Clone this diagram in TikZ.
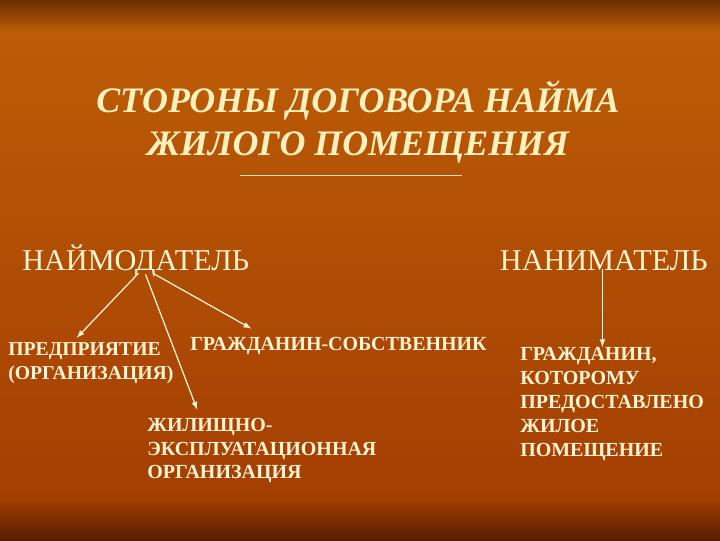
\documentclass[tikz,border=0pt]{standalone}
\usepackage{fontspec}
\setmainfont{Liberation Serif}
\usepackage{tikz}
\usetikzlibrary{positioning}
\definecolor{cream}{HTML}{FFF4D2}
\definecolor{titlecream}{HTML}{FFF1BE}
\definecolor{rusttop}{HTML}{6A2E00}
\definecolor{rustmid}{HTML}{BE5E06}
\definecolor{rustlow}{HTML}{A23C02}
\definecolor{rustbot}{HTML}{581E00}

\begin{document}
\begin{tikzpicture}[x=0.025cm,y=-0.025cm,
  heading/.style={text=cream, font=\fontsize{21.5}{26}\selectfont, inner sep=0pt},
  item/.style={text=cream, font=\bfseries\fontsize{14.2}{16.8}\selectfont, align=left, inner sep=0pt},
  link/.style={-latex, cream, line width=0.9pt}]
% background
\useasboundingbox (0,0) rectangle (720,540);
\shade[top color=rustmid, bottom color=rustlow] (0,0) rectangle (720,540);
\shade[top color=rusttop, bottom color=rustmid] (0,0) rectangle (720,32);
\shade[top color=rustlow, bottom color=rustbot] (0,500) rectangle (720,540);

% title
\node[text=titlecream,
      font=\bfseries\itshape\fontsize{25.5}{30}\selectfont,
      align=center,
      inner sep=0pt
     ]
     (title) at (358,122) {СТОРОНЫ ДОГОВОРА НАЙМА\\ЖИЛОГО ПОМЕЩЕНИЯ};
\coordinate (ruleL) at (240,175); \coordinate (ruleR) at (462,175);
\draw[cream!80!gray, line width=0.6pt] (ruleL) -- (ruleR);

% the two parties
\node[heading, anchor=west] (landlord) at (22,261) {НАЙМОДАТЕЛЬ};
\node[heading, anchor=east] (tenant) at (708,261) {НАНИМАТЕЛЬ};

% landlord side
\node[item, anchor=north west, font=\bfseries\fontsize{14}{17}\selectfont] (firm) at (8,342) {ПРЕДПРИЯТИЕ\\(ОРГАНИЗАЦИЯ)};
\node[item, anchor=north west] (owner) at (190,337) {ГРАЖДАНИН-СОБСТВЕННИК};
\node[item, anchor=north west] (housing) at (147,418) {ЖИЛИЩНО-\\ЭКСПЛУАТАЦИОННАЯ\\ОРГАНИЗАЦИЯ};

% tenant side
\node[item, anchor=north west,
      font=\bfseries\fontsize{14.2}{17}\selectfont
     ]
     (citizen) at (520,347) {ГРАЖДАНИН,\\КОТОРОМУ\\ПРЕДОСТАВЛЕНО\\ЖИЛОЕ\\ПОМЕЩЕНИЕ};

% arrows
\draw[link] ([xshift=2pt,yshift=3pt]landlord.south) -- ([xshift=-10pt,yshift=3pt]firm.north);
\draw[link] ([xshift=7pt,yshift=2pt]landlord.south) -- ([xshift=-46pt,yshift=6pt]housing.north);
\draw[link] ([xshift=12pt,yshift=3pt]landlord.south) -- ([xshift=-62pt,yshift=6pt]owner.north);
\draw[link] ([xshift=-1pt,yshift=2pt]tenant.south) -- ([xshift=-1pt]tenant.south |- citizen.north);
\end{tikzpicture}
\end{document}
